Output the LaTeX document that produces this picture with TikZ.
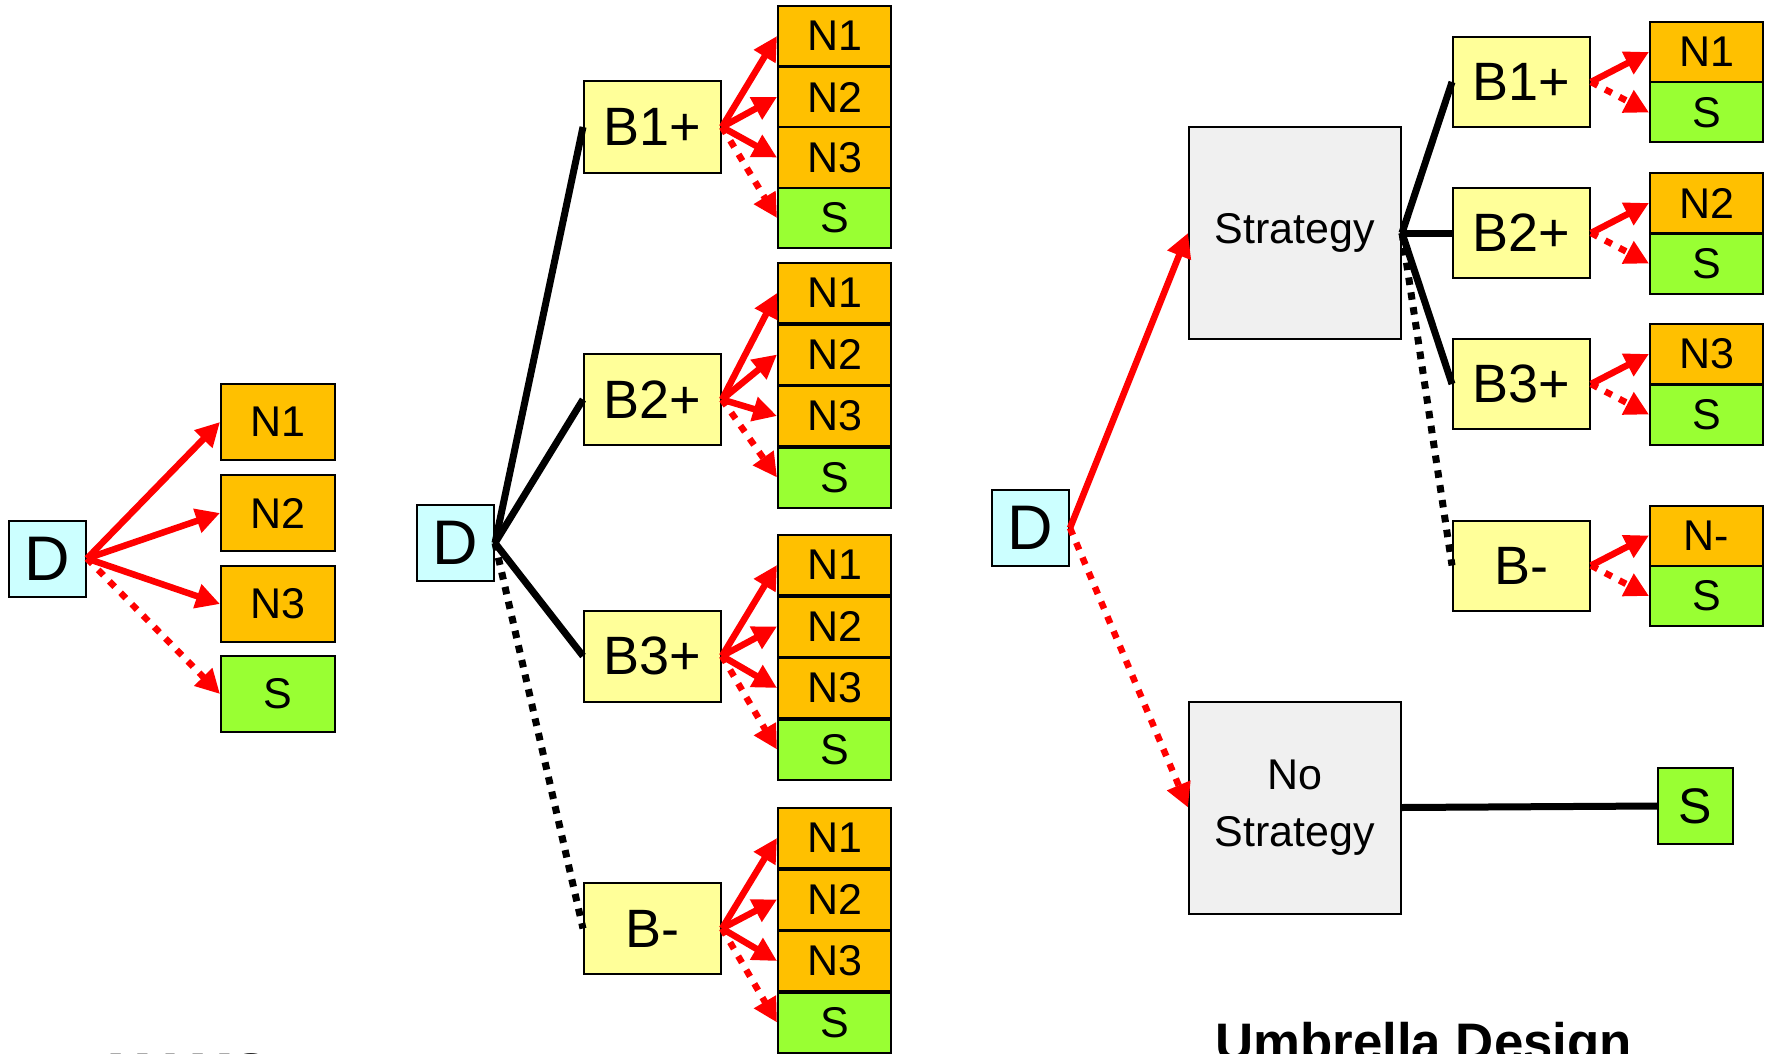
\documentclass[tikz,border=0pt]{standalone}
\usepackage{fontspec}
\setmainfont{Liberation Sans}
\usetikzlibrary{arrows.meta}

\definecolor{dcol}{HTML}{CCFFFF}
\definecolor{bcol}{HTML}{FFFF99}
\definecolor{ncol}{HTML}{FFC000}
\definecolor{scol}{HTML}{99FF33}
\definecolor{gcol}{HTML}{F0F0F0}

\begin{document}
\begin{tikzpicture}[x=0.5pt,y=-0.5pt,
  box/.style={draw=black,line width=1pt,inner sep=0pt},
  dbox/.style={box,fill=dcol,minimum width=38.5pt,minimum height=38pt,font=\fontsize{31.5}{36}\selectfont},
  bbox/.style={box,fill=bcol,minimum width=68.5pt,minimum height=45.5pt,font=\fontsize{27}{32}\selectfont},
  nbox/.style={box,fill=ncol,minimum width=56.5pt,minimum height=30pt,font=\fontsize{21.5}{25}\selectfont},
  sbox/.style={nbox,fill=scol},
  tall/.style={minimum width=57pt,minimum height=38pt},
  gbox/.style={box,fill=gcol,minimum width=106pt,minimum height=106pt,align=center,font=\fontsize{21.5}{28.75}\selectfont},
  arr/.style={draw=red,line width=3.25pt,-{Triangle[length=12pt,width=12pt]}},
  darr/.style={arr,dash pattern=on 3.75pt off 4.25pt},
  link/.style={draw=black,line width=3.5pt},
  dlink/.style={link,dash pattern=on 3.75pt off 3.75pt},
  title/.style={inner sep=0pt,anchor=base west,font=\fontsize{26.4}{30}\selectfont\bfseries}]
\useasboundingbox (0,0) rectangle (1767,1054);

% left tree
\node[dbox] (dl) at (47.5,558.5) {D};
\node[nbox,tall] (ln1) at (278,422) {N1};
\node[nbox,tall] (ln2) at (278,513) {N2};
\node[nbox,tall] (ln3) at (278,604) {N3};
\node[sbox,tall] (ls) at (278,694) {S};
\path (dl.east) edge[arr] (ln1.west) edge[arr] (ln2.west) edge[arr] (ln3.west);
\draw[darr] (dl.east) -- (ls.west);
\node[title] (tl) at (107,1090) {MAMS};

% middle tree
\node[dbox] (dm) at (455.5,543) {D};
\node[bbox] (mb1) at (652.5,127) {B1+};
\node[bbox] (mb2) at (652.5,399.5) {B2+};
\node[bbox] (mb3) at (652.5,656) {B3+};
\node[bbox] (mb4) at (652.5,928.5) {B-};
\path (dm.east) edge[link] (mb1.west) edge[link] (mb2.west) edge[link] (mb3.west);
\draw[dlink] (dm.east) -- (mb4.west);

\node[nbox] (m1n1) at (834.5,36) {N1};
\node[nbox] (m1n2) at (834.5,97) {N2};
\node[nbox] (m1n3) at (834.5,157.5) {N3};
\node[sbox] (m1s) at (834.5,218) {S};
\node[nbox] (m2n1) at (834.5,293) {N1};
\node[nbox] (m2n2) at (834.5,354.5) {N2};
\node[nbox] (m2n3) at (834.5,416) {N3};
\node[sbox] (m2s) at (834.5,477.5) {S};
\node[nbox] (m3n1) at (834.5,565) {N1};
\node[nbox] (m3n2) at (834.5,626.5) {N2};
\node[nbox] (m3n3) at (834.5,688) {N3};
\node[sbox] (m3s) at (834.5,749.5) {S};
\node[nbox] (m4n1) at (834.5,838) {N1};
\node[nbox] (m4n2) at (834.5,899.5) {N2};
\node[nbox] (m4n3) at (834.5,961) {N3};
\node[sbox] (m4s) at (834.5,1022.5) {S};

\path (mb1.east) edge[arr] (m1n1.west) edge[arr] (m1n2.west) edge[arr] (m1n3.west);
\draw[darr] (mb1.east) -- (m1s.west);
\path (mb2.east) edge[arr] (m2n1.west) edge[arr] (m2n2.west) edge[arr] (m2n3.west);
\draw[darr] (mb2.east) -- (m2s.west);
\path (mb3.east) edge[arr] (m3n1.west) edge[arr] (m3n2.west) edge[arr] (m3n3.west);
\draw[darr] (mb3.east) -- (m3s.west);
\path (mb4.east) edge[arr] (m4n1.west) edge[arr] (m4n2.west) edge[arr] (m4n3.west);
\draw[darr] (mb4.east) -- (m4s.west);

% umbrella tree
\node[dbox] (dr) at (1030.5,528) {D};
\node[gbox] (strat) at (1295,233) {Strategy};
\node[gbox] (nostrat) at (1295,807.5) {No\\Strategy};
\draw[arr] (dr.east) -- (strat.west);
\draw[darr] (dr.east) -- (nostrat.west);

\node[bbox,minimum height=45pt] (rb1) at (1521.5,82) {B1+};
\node[bbox,minimum height=45pt] (rb2) at (1521.5,233) {B2+};
\node[bbox,minimum height=45pt] (rb3) at (1521.5,384) {B3+};
\node[bbox,minimum height=45pt] (rb4) at (1521.5,565.5) {B-};
\path (strat.east) edge[link] (rb1.west) edge[link] (rb2.west) edge[link] (rb3.west);
\draw[dlink] (strat.east) -- (rb4.west);

\node[nbox] (r1n) at (1706.5,52) {N1};
\node[sbox] (r1s) at (1706.5,112.5) {S};
\node[nbox] (r2n) at (1706.5,203) {N2};
\node[sbox] (r2s) at (1706.5,263.5) {S};
\node[nbox] (r3n) at (1706.5,354) {N3};
\node[sbox] (r3s) at (1706.5,414.5) {S};
\node[nbox] (r4n) at (1706.5,535.5) {N-};
\node[sbox] (r4s) at (1706.5,596) {S};
\draw[arr] (rb1.east) -- (r1n.west);
\draw[darr] (rb1.east) -- (r1s.west);
\draw[arr] (rb2.east) -- (r2n.west);
\draw[darr] (rb2.east) -- (r2s.west);
\draw[arr] (rb3.east) -- (r3n.west);
\draw[darr] (rb3.east) -- (r3s.west);
\draw[arr] (rb4.east) -- (r4n.west);
\draw[darr] (rb4.east) -- (r4s.west);

\node[sbox,minimum width=37.5pt,minimum height=38pt,font=\fontsize{25}{30}\selectfont] (sr) at (1695.5,806) {S};
\draw[link] (nostrat.east) -- (sr.west);
\node[title] (tr) at (1215,1060) {Umbrella Design};
\end{tikzpicture}
\end{document}
